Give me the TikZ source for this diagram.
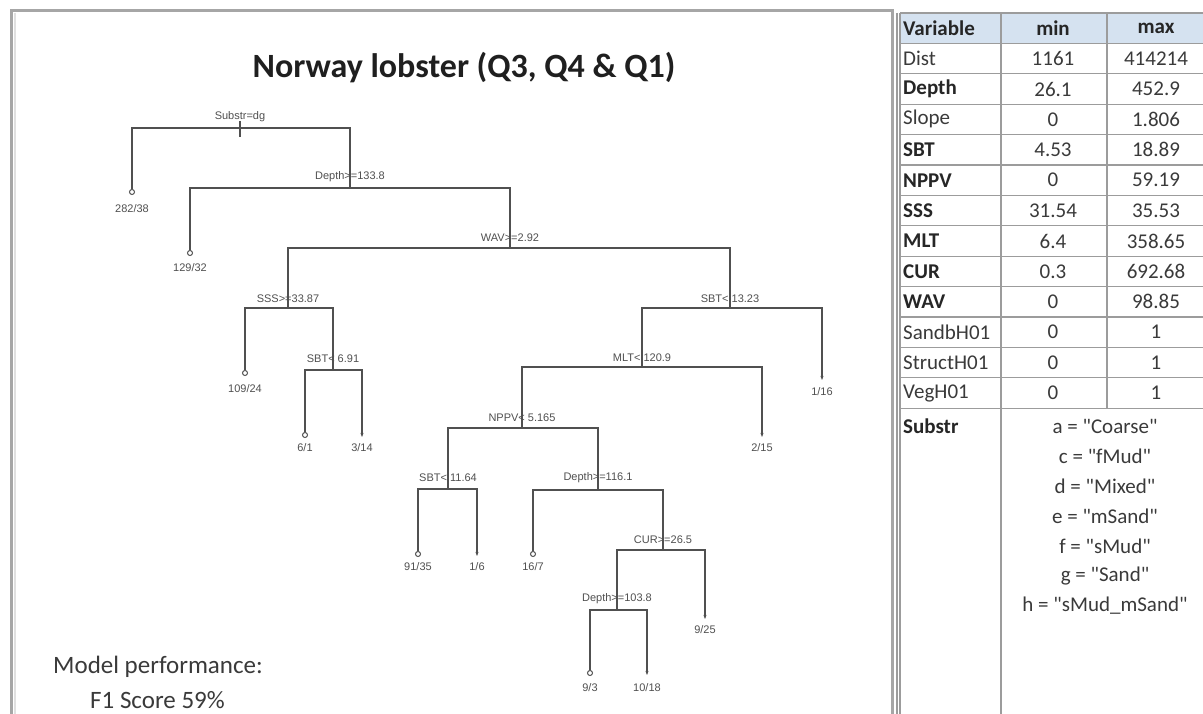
\documentclass[tikz,border=0pt]{standalone}
\usepackage{fontspec}
\setmainfont{Carlito}
\newfontfamily\treefont{Liberation Sans}
\usetikzlibrary{arrows.meta}
\definecolor{hdrblue}{HTML}{D5E2F0}
\definecolor{gridgray}{HTML}{9C9C9C}
\definecolor{framegray}{HTML}{A6A6A6}
\definecolor{treegray}{HTML}{505050}
\definecolor{txtgray}{HTML}{3A3A3A}
\begin{document}
\begin{tikzpicture}[x=1pt,y=-1pt,
  branch/.style={draw=treegray, line width=1.6pt},
  splitlabel/.style={font=\treefont\fontsize{11}{13}\selectfont, text=treegray, inner sep=0pt},
  leaflabel/.style={font=\treefont\fontsize{11}{13}\selectfont, text=treegray, inner sep=0pt},
  leafo/.style={circle, draw=treegray, line width=1pt, minimum size=5pt, inner sep=0pt},
  tiptip/.style={-{Stealth[length=4pt,width=3pt]}},
  tab/.style={font=\fontsize{21}{25}\selectfont, text=txtgray, inner sep=0pt},
  tabb/.style={tab, font=\bfseries\fontsize{21}{25}\selectfont, text=black!85},
  grid/.style={draw=gridgray, line width=1.2pt}]
\useasboundingbox (0,0) rectangle (1203,714);
\fill[white] (0,0) rectangle (1203,714);

% ---------- left panel frame ----------
\draw[framegray, line width=3pt] (11,11) rectangle (892,740);
\draw[black!12, line width=2pt] (14.5,13) -- (14.5,714);

% ---------- title and performance ----------
\node[font=\bfseries\fontsize{34}{40}\selectfont, text=black!88] (title) at (464,68) {Norway lobster (Q3, Q4 \& Q1)};
\node[anchor=west, font=\fontsize{25}{30}\selectfont, text=txtgray, inner sep=0pt] (perf) at (53,667) {Model performance:};
\node[anchor=west, font=\fontsize{25}{30}\selectfont, text=txtgray, inner sep=0pt] (score) at (90,700) {F1 Score 59\%};

% ---------- split points ----------
\coordinate (s1) at (240,128);
\coordinate (s2) at (350,188);
\coordinate (s3) at (510,248);
\coordinate (s4) at (288,308);
\coordinate (s5) at (730,308);
\coordinate (s6) at (333,370);
\coordinate (s7) at (642,367);
\coordinate (s8) at (522,428);
\coordinate (s9) at (448,489);
\coordinate (s10) at (598,490);
\coordinate (s11) at (663,550);
\coordinate (s12) at (617,610);

% ---------- leaves ----------
\node[leafo] (l1) at (132,192) {};
\node[leafo] (l2) at (190,253) {};
\node[leafo] (l3) at (245,373) {};
\node[leafo] (l4) at (305,435) {};
\coordinate (l5) at (362,437);
\coordinate (l6) at (822,380);
\coordinate (l7) at (762,437);
\node[leafo] (l8) at (418,554) {};
\coordinate (l9) at (477,556);
\node[leafo] (l10) at (533,554) {};
\node[leafo] (l11) at (590,673) {};
\coordinate (l12) at (647,675);
\coordinate (l13) at (705,619);

% ---------- branches ----------
\draw[branch] (s1) ++(0,-7) -- ++(0,16);
\draw[branch] (s1) -| (l1.north);
\draw[branch] (s1) -| (s2);
\draw[branch] (s2) -| (l2.north);
\draw[branch] (s2) -| (s3);
\draw[branch] (s3) -| (s4);
\draw[branch] (s3) -| (s5);
\draw[branch] (s4) -| (l3.north);
\draw[branch] (s4) -| (s6);
\draw[branch] (s6) -| (l4.north);
\draw[branch, tiptip] (s6) -| (l5);
\draw[branch] (s5) -| (s7);
\draw[branch, tiptip] (s5) -| (l6);
\draw[branch] (s7) -| (s8);
\draw[branch, tiptip] (s7) -| (l7);
\draw[branch] (s8) -| (s9);
\draw[branch] (s8) -| (s10);
\draw[branch] (s9) -| (l8.north);
\draw[branch, tiptip] (s9) -| (l9);
\draw[branch] (s10) -| (l10.north);
\draw[branch] (s10) -| (s11);
\draw[branch] (s11) -| (s12);
\draw[branch, tiptip] (s11) -| (l13);
\draw[branch] (s12) -| (l11.north);
\draw[branch, tiptip] (s12) -| (l12);

% ---------- split labels (above each split bar) ----------
\node[splitlabel] (t1) at ([yshift=11pt]s1) {Substr=dg};
\node[splitlabel] (t2) at ([yshift=11pt]s2) {Depth>=133.8};
\node[splitlabel] (t3) at ([yshift=10pt]s3) {WAV>=2.92};
\node[splitlabel] (t4) at ([yshift=9pt]s4) {SSS>=33.87};
\node[splitlabel] (t5) at ([yshift=9pt]s5) {SBT< 13.23};
\node[splitlabel] (t6) at ([yshift=11pt]s6) {SBT< 6.91};
\node[splitlabel] (t7) at ([yshift=9pt]s7) {MLT< 120.9};
\node[splitlabel] (t8) at ([yshift=10pt]s8) {NPPV< 5.165};
\node[splitlabel] (t9) at ([yshift=11pt]s9) {SBT< 11.64};
\node[splitlabel] (t10) at ([yshift=12pt]s10) {Depth>=116.1};
\node[splitlabel] (t11) at ([yshift=10pt]s11) {CUR>=26.5};
\node[splitlabel] (t12) at ([yshift=11pt]s12) {Depth>=103.8};

% ---------- leaf labels (below each leaf) ----------
\node[leaflabel] (n1) at ([yshift=-17pt]l1) {282/38};
\node[leaflabel] (n2) at ([yshift=-15pt]l2) {129/32};
\node[leaflabel] (n3) at ([yshift=-16pt]l3) {109/24};
\node[leaflabel] (n4) at ([yshift=-13pt]l4) {6/1};
\node[leaflabel] (n5) at ([yshift=-11pt]l5) {3/14};
\node[leaflabel] (n6) at ([yshift=-12pt]l6) {1/16};
\node[leaflabel] (n7) at ([yshift=-11pt]l7) {2/15};
\node[leaflabel] (n8) at ([yshift=-13pt]l8) {91/35};
\node[leaflabel] (n9) at ([yshift=-11pt]l9) {1/6};
\node[leaflabel] (n10) at ([yshift=-13pt]l10) {16/7};
\node[leaflabel] (n11) at ([yshift=-15pt]l11) {9/3};
\node[leaflabel] (n12) at ([yshift=-13pt]l12) {10/18};
\node[leaflabel] (n13) at ([yshift=-11pt]l13) {9/25};

% ---------- variable table ----------
\def\rh{30.4}
\fill[hdrblue] (900,13) rectangle (1210,43.4);
\foreach \i in {0,...,13} {
  \draw[grid] (900,13+\i*\rh) -- (1210,13+\i*\rh);
}
\draw[grid] (900,13) -- (900,720);
\draw[grid] (897,13) -- (897,720);
\draw[grid] (1001,13) -- (1001,720);
\draw[grid] (1107,13) -- (1107,13+13*\rh);

\node[tabb, anchor=west] (hv) at (903,13+0.5*\rh) {Variable};
\node[tabb] (hmin) at (1053,13+0.5*\rh) {min};
\node[tabb] (hmax) at (1156,13+0.5*\rh) {max};

\foreach \name/\lo/\hi/\bf [count=\k] in {
  Dist/1161/414214/0, Depth/26.1/452.9/1, Slope/0/1.806/0, SBT/4.53/18.89/1,
  NPPV/0/59.19/1, SSS/31.54/35.53/1, MLT/6.4/358.65/1, CUR/0.3/692.68/1,
  WAV/0/98.85/1, SandbH01/0/1/0, StructH01/0/1/0, VegH01/0/1/0} {
  \ifnum\bf=1
    \node[tabb, anchor=west] (v\k) at (903,13+\k*\rh+0.5*\rh) {\name};
  \else
    \node[tab, anchor=west] (v\k) at (903,13+\k*\rh+0.5*\rh) {\name};
  \fi
  \node[tab] (mn\k) at (1053,13+\k*\rh+0.5*\rh) {\lo};
  \node[tab] (mx\k) at (1156,13+\k*\rh+0.5*\rh) {\hi};
}

\node[tabb, anchor=west] (vsub) at (903,426) {Substr};
\foreach \code [count=\j from 0] in {a = \textquotedbl Coarse\textquotedbl, c = \textquotedbl fMud\textquotedbl, d = \textquotedbl Mixed\textquotedbl, e = \textquotedbl mSand\textquotedbl, f = \textquotedbl sMud\textquotedbl, g = \textquotedbl Sand\textquotedbl, h = \textquotedbl sMud\_mSand\textquotedbl} {
  \node[tab] (sub\j) at (1105,426+\j*30) {\code};
}
\end{tikzpicture}
\end{document}
